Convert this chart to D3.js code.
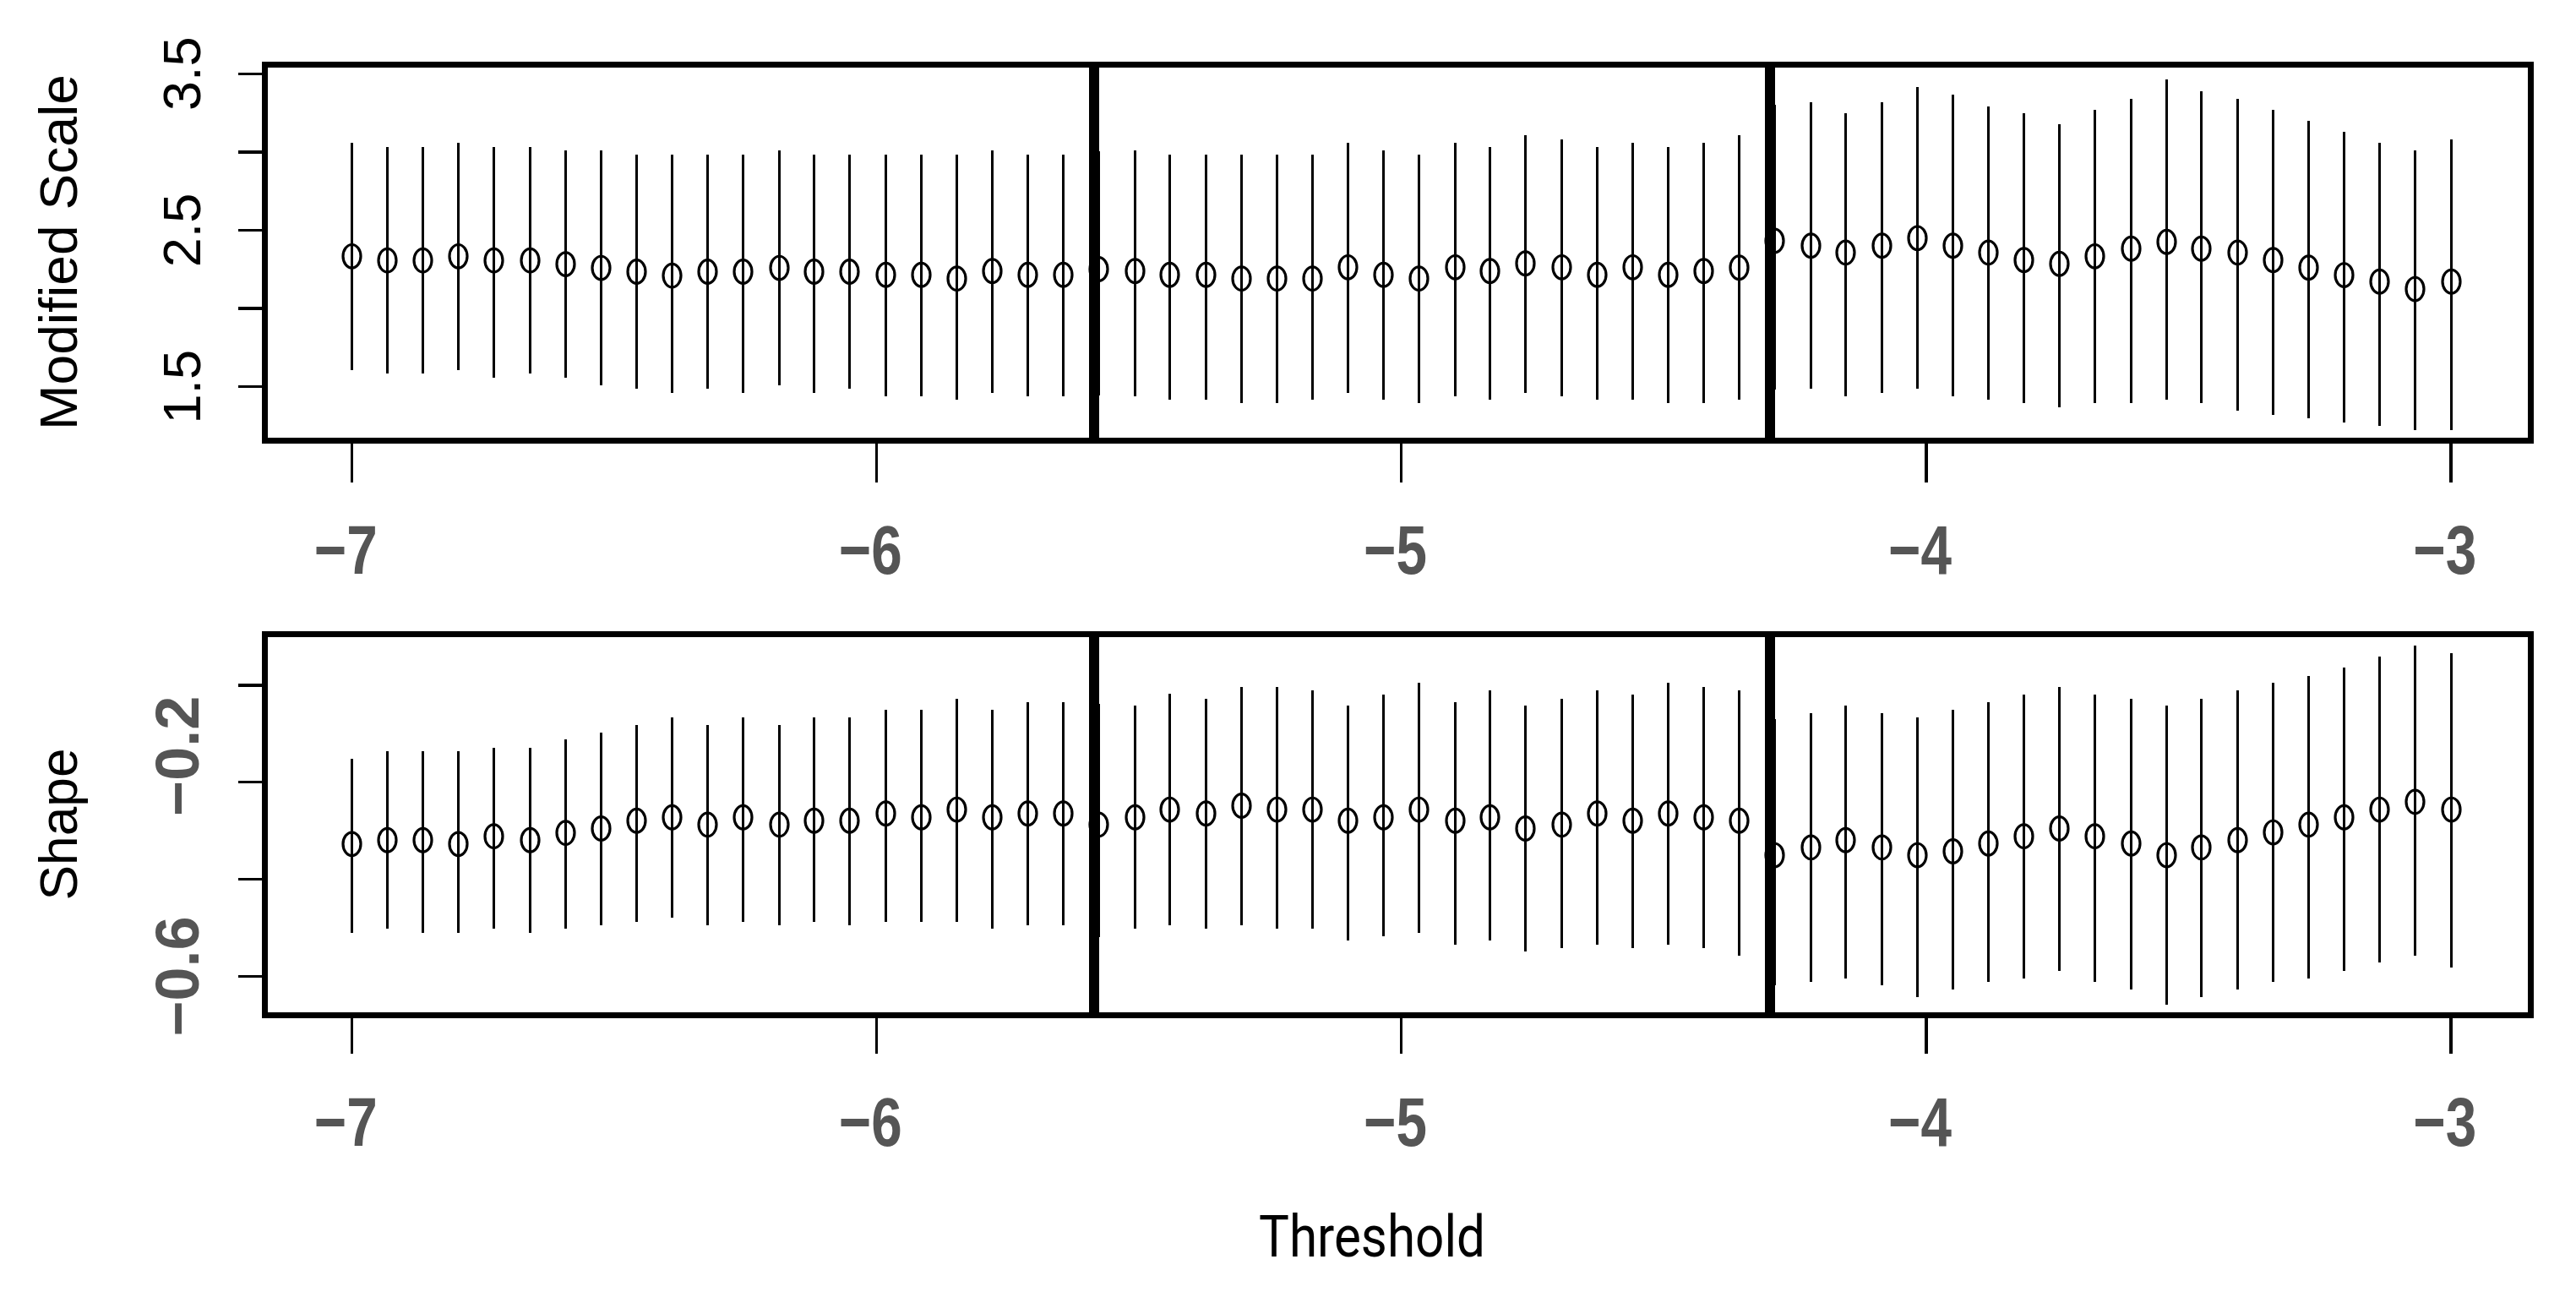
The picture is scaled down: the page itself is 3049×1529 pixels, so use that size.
<!DOCTYPE html>
<html>
<head>
<meta charset="utf-8">
<script src="https://cdn.jsdelivr.net/npm/d3@7"></script>
<style>
  body { margin: 0; background: #fff; }
</style>
</head>
<body>
<div class="chart"></div>
<script>
var svgWidth = 3049;
var svgHeight = 1529;

// threshold values (60 fits from -7 to -3)
var thresholds = [-7.000, -6.932, -6.864, -6.797, -6.729, -6.661, -6.593, -6.525, -6.458, -6.390,
  -6.322, -6.254, -6.186, -6.119, -6.051, -5.983, -5.915, -5.847, -5.780, -5.712,
  -5.644, -5.576, -5.508, -5.441, -5.373, -5.305, -5.237, -5.169, -5.102, -5.034,
  -4.966, -4.898, -4.831, -4.763, -4.695, -4.627, -4.559, -4.492, -4.424, -4.356,
  -4.288, -4.220, -4.153, -4.085, -4.017, -3.949, -3.881, -3.814, -3.746, -3.678,
  -3.610, -3.542, -3.475, -3.407, -3.339, -3.271, -3.203, -3.136, -3.068, -3.000];

// modified scale: estimate, lower and upper limits
var scaleEst = [2.331, 2.305, 2.305, 2.331, 2.305, 2.305, 2.281, 2.257, 2.233, 2.208,
  2.233, 2.233, 2.257, 2.233, 2.233, 2.213, 2.213, 2.189, 2.237, 2.213,
  2.213, 2.249, 2.237, 2.213, 2.213, 2.189, 2.189, 2.189, 2.261, 2.213,
  2.189, 2.261, 2.237, 2.286, 2.261, 2.213, 2.261, 2.213, 2.237, 2.259,
  2.430, 2.399, 2.355, 2.399, 2.447, 2.399, 2.355, 2.307, 2.283, 2.331,
  2.380, 2.423, 2.380, 2.355, 2.307, 2.259, 2.211, 2.170, 2.122, 2.170];
var scaleLower = [1.604, 1.580, 1.580, 1.604, 1.555, 1.580, 1.555, 1.507, 1.483, 1.459,
  1.483, 1.459, 1.507, 1.459, 1.483, 1.435, 1.435, 1.416, 1.459, 1.435,
  1.435, 1.440, 1.435, 1.416, 1.416, 1.392, 1.392, 1.416, 1.459, 1.416,
  1.392, 1.435, 1.416, 1.459, 1.435, 1.416, 1.416, 1.392, 1.392, 1.416,
  1.480, 1.488, 1.435, 1.459, 1.488, 1.435, 1.416, 1.392, 1.367, 1.392,
  1.392, 1.416, 1.392, 1.343, 1.319, 1.295, 1.271, 1.247, 1.223, 1.223];
var scaleUpper = [3.054, 3.030, 3.030, 3.054, 3.030, 3.030, 3.006, 3.006, 2.982, 2.982,
  2.982, 2.982, 3.006, 2.982, 2.982, 2.982, 2.982, 2.982, 3.006, 2.982,
  2.982, 3.000, 3.006, 2.982, 2.982, 2.982, 2.982, 2.982, 3.054, 3.006,
  2.982, 3.054, 3.030, 3.102, 3.078, 3.030, 3.054, 3.030, 3.054, 3.102,
  3.300, 3.314, 3.245, 3.314, 3.411, 3.363, 3.290, 3.245, 3.175, 3.266,
  3.339, 3.459, 3.387, 3.339, 3.266, 3.196, 3.127, 3.054, 3.006, 3.078];

// shape: estimate, lower and upper limits
var shapeEst = [-0.328, -0.320, -0.320, -0.328, -0.312, -0.320, -0.305, -0.296, -0.280, -0.273,
  -0.288, -0.273, -0.288, -0.280, -0.280, -0.265, -0.273, -0.257, -0.273, -0.265,
  -0.265, -0.288, -0.273, -0.257, -0.265, -0.249, -0.257, -0.257, -0.280, -0.273,
  -0.257, -0.280, -0.273, -0.296, -0.288, -0.265, -0.280, -0.265, -0.273, -0.280,
  -0.351, -0.335, -0.320, -0.335, -0.351, -0.343, -0.327, -0.312, -0.296, -0.312,
  -0.327, -0.351, -0.335, -0.320, -0.304, -0.288, -0.273, -0.257, -0.241, -0.257];
var shapeLower = [-0.511, -0.503, -0.511, -0.511, -0.503, -0.511, -0.503, -0.495, -0.488, -0.480,
  -0.495, -0.488, -0.495, -0.488, -0.495, -0.488, -0.488, -0.488, -0.503, -0.495,
  -0.495, -0.520, -0.503, -0.495, -0.503, -0.495, -0.503, -0.503, -0.526, -0.519,
  -0.511, -0.535, -0.526, -0.550, -0.542, -0.535, -0.542, -0.535, -0.542, -0.558,
  -0.620, -0.613, -0.605, -0.620, -0.644, -0.628, -0.613, -0.605, -0.589, -0.613,
  -0.628, -0.659, -0.644, -0.628, -0.613, -0.605, -0.589, -0.573, -0.558, -0.582];
var shapeUpper = [-0.153, -0.136, -0.136, -0.136, -0.130, -0.130, -0.113, -0.098, -0.082, -0.067,
  -0.082, -0.067, -0.082, -0.067, -0.067, -0.052, -0.052, -0.028, -0.052, -0.036,
  -0.036, -0.040, -0.043, -0.019, -0.028, -0.004, -0.004, -0.012, -0.043, -0.020,
  0.004, -0.036, -0.012, -0.043, -0.028, -0.012, -0.020, 0.004, -0.004, -0.012,
  -0.070, -0.059, -0.043, -0.059, -0.067, -0.052, -0.036, -0.020, -0.004, -0.020,
  -0.028, -0.043, -0.028, -0.012, 0.004, 0.019, 0.035, 0.058, 0.081, 0.066];

// vertical separators
var separators = [-5.585, -4.297];

// ticks
var xTicks = [-7, -6, -5, -4, -3];
var xTickLabels = ["\u22127", "\u22126", "\u22125", "\u22124", "\u22123"];
var scaleTicks = [3.5, 3.0, 2.5, 2.0, 1.5];
var scaleTickLabels = ["3.5", "", "2.5", "", "1.5"];
var shapeTicks = [0.0, -0.2, -0.4, -0.6];
var shapeTickLabels = ["", "\u22120.2", "", "\u22120.6"];

var boxLeft = 313.5;
var boxRight = 2995;

var svg = d3.select(".chart")
  .append("svg")
  .attr("width", svgWidth)
  .attr("height", svgHeight)
  .style("font-family", "'Liberation Sans', Arial, sans-serif");

svg.append("rect").attr("width", svgWidth).attr("height", svgHeight).attr("fill", "#fff");

var xScale = d3.scaleLinear().domain([-7, -3]).range([416, 2900.5]);

var panels = [
  {
    est: scaleEst, lo: scaleLower, hi: scaleUpper,
    boxTop: 76, boxBottom: 521,
    domain: [3.5, 1.5], range: [86.7, 457.3],
    ticks: scaleTicks, tickLabels: scaleTickLabels,
    labelBold: false, labelSize: 63, labelColor: "#000", labelX: 237, labelShift: {},
    xLabelY: 158, xTickLen: 50,
    title: "Modified Scale", titleLen: 421
  },
  {
    est: shapeEst, lo: shapeLower, hi: shapeUpper,
    boxTop: 750, boxBottom: 1201,
    domain: [0, -0.6], range: [810.5, 1155],
    ticks: shapeTicks, tickLabels: shapeTickLabels,
    labelBold: true, labelSize: 72, labelColor: "#555", labelX: 235, labelShift: {1: 31},
    xLabelY: 155, xTickLen: 46,
    title: "Shape", titleLen: 180
  }
];

panels.forEach(function(p) {
  var yScale = d3.scaleLinear().domain(p.domain).range(p.range);
  var g = svg.append("g");

  // error bars
  g.selectAll(".bar")
    .data(thresholds)
    .enter()
    .append("line")
    .attr("x1", d => Math.round(xScale(d)) + 0.5)
    .attr("x2", d => Math.round(xScale(d)) + 0.5)
    .attr("y1", (d, i) => yScale(p.hi[i]))
    .attr("y2", (d, i) => yScale(p.lo[i]))
    .attr("stroke", "#000")
    .attr("stroke-width", 3)
    .attr("shape-rendering", "crispEdges");

  // point estimates
  g.selectAll(".pt")
    .data(thresholds)
    .enter()
    .append("ellipse")
    .attr("cx", d => Math.round(xScale(d)) + 0.5)
    .attr("cy", (d, i) => yScale(p.est[i]))
    .attr("rx", 10.5)
    .attr("ry", 13.8)
    .attr("fill", "none")
    .attr("stroke", "#000")
    .attr("stroke-width", 3.2);

  // separators
  g.selectAll(".sep")
    .data(separators)
    .enter()
    .append("line")
    .attr("x1", d => xScale(d))
    .attr("x2", d => xScale(d))
    .attr("y1", p.boxTop)
    .attr("y2", p.boxBottom)
    .attr("stroke", "#000")
    .attr("stroke-width", 12)
    .attr("shape-rendering", "crispEdges");

  // y axis
  var yAxis = g.append("g")
    .attr("transform", `translate(${boxLeft}, 0)`)
    .call(d3.axisLeft(yScale).tickValues(p.ticks).tickSize(32)
      .tickFormat((d, i) => p.tickLabels[i]));
  yAxis.select(".domain").remove();
  yAxis.selectAll(".tick line").attr("stroke", "#000").attr("stroke-width", 3.3)
    .attr("shape-rendering", "crispEdges");
  yAxis.selectAll(".tick text")
    .attr("transform", `translate(${p.labelX - boxLeft}, 0) rotate(-90)`)
    .attr("x", (d, i) => p.labelShift[i] || 0)
    .attr("y", 0)
    .attr("dy", 0)
    .attr("text-anchor", "middle")
    .attr("font-family", "'Liberation Sans', Arial, sans-serif")
    .attr("font-size", p.labelSize)
    .attr("font-weight", p.labelBold ? "bold" : "normal")
    .attr("fill", p.labelColor);

  // x axis
  var xAxis = g.append("g")
    .attr("transform", `translate(0, ${p.boxBottom})`)
    .call(d3.axisBottom(xScale).tickValues(xTicks).tickSize(p.xTickLen)
      .tickFormat((d, i) => xTickLabels[i]));
  xAxis.select(".domain").remove();
  xAxis.selectAll(".tick line").attr("stroke", "#000").attr("stroke-width", 3.3)
    .attr("shape-rendering", "crispEdges");
  xAxis.selectAll(".tick text")
    .attr("x", -9)
    .attr("y", p.xLabelY)
    .attr("dy", 0)
    .attr("transform", "scale(0.8,1)")
    .attr("font-family", "'Liberation Sans', Arial, sans-serif")
    .attr("font-size", 82)
    .attr("font-weight", "bold")
    .attr("fill", "#555");

  // box
  g.append("rect")
    .attr("x", boxLeft)
    .attr("y", p.boxTop)
    .attr("width", boxRight - boxLeft)
    .attr("height", p.boxBottom - p.boxTop)
    .attr("fill", "none")
    .attr("stroke", "#000")
    .attr("stroke-width", 7)
    .attr("shape-rendering", "crispEdges");

  // y title
  g.append("text")
    .attr("transform", `translate(91, ${(p.boxTop + p.boxBottom) / 2}) rotate(-90)`)
    .attr("text-anchor", "middle")
    .attr("font-size", 63)
    .attr("textLength", p.titleLen)
    .attr("lengthAdjust", "spacingAndGlyphs")
    .attr("fill", "#000")
    .text(p.title);
});

// x title
svg.append("text")
  .attr("x", 1624)
  .attr("y", 1487)
  .attr("text-anchor", "middle")
  .attr("font-family", "Roboto, 'Liberation Sans', sans-serif")
  .attr("font-size", 69)
  .attr("textLength", 268)
  .attr("lengthAdjust", "spacingAndGlyphs")
  .attr("fill", "#000")
  .text("Threshold");
</script>
</body>
</html>
